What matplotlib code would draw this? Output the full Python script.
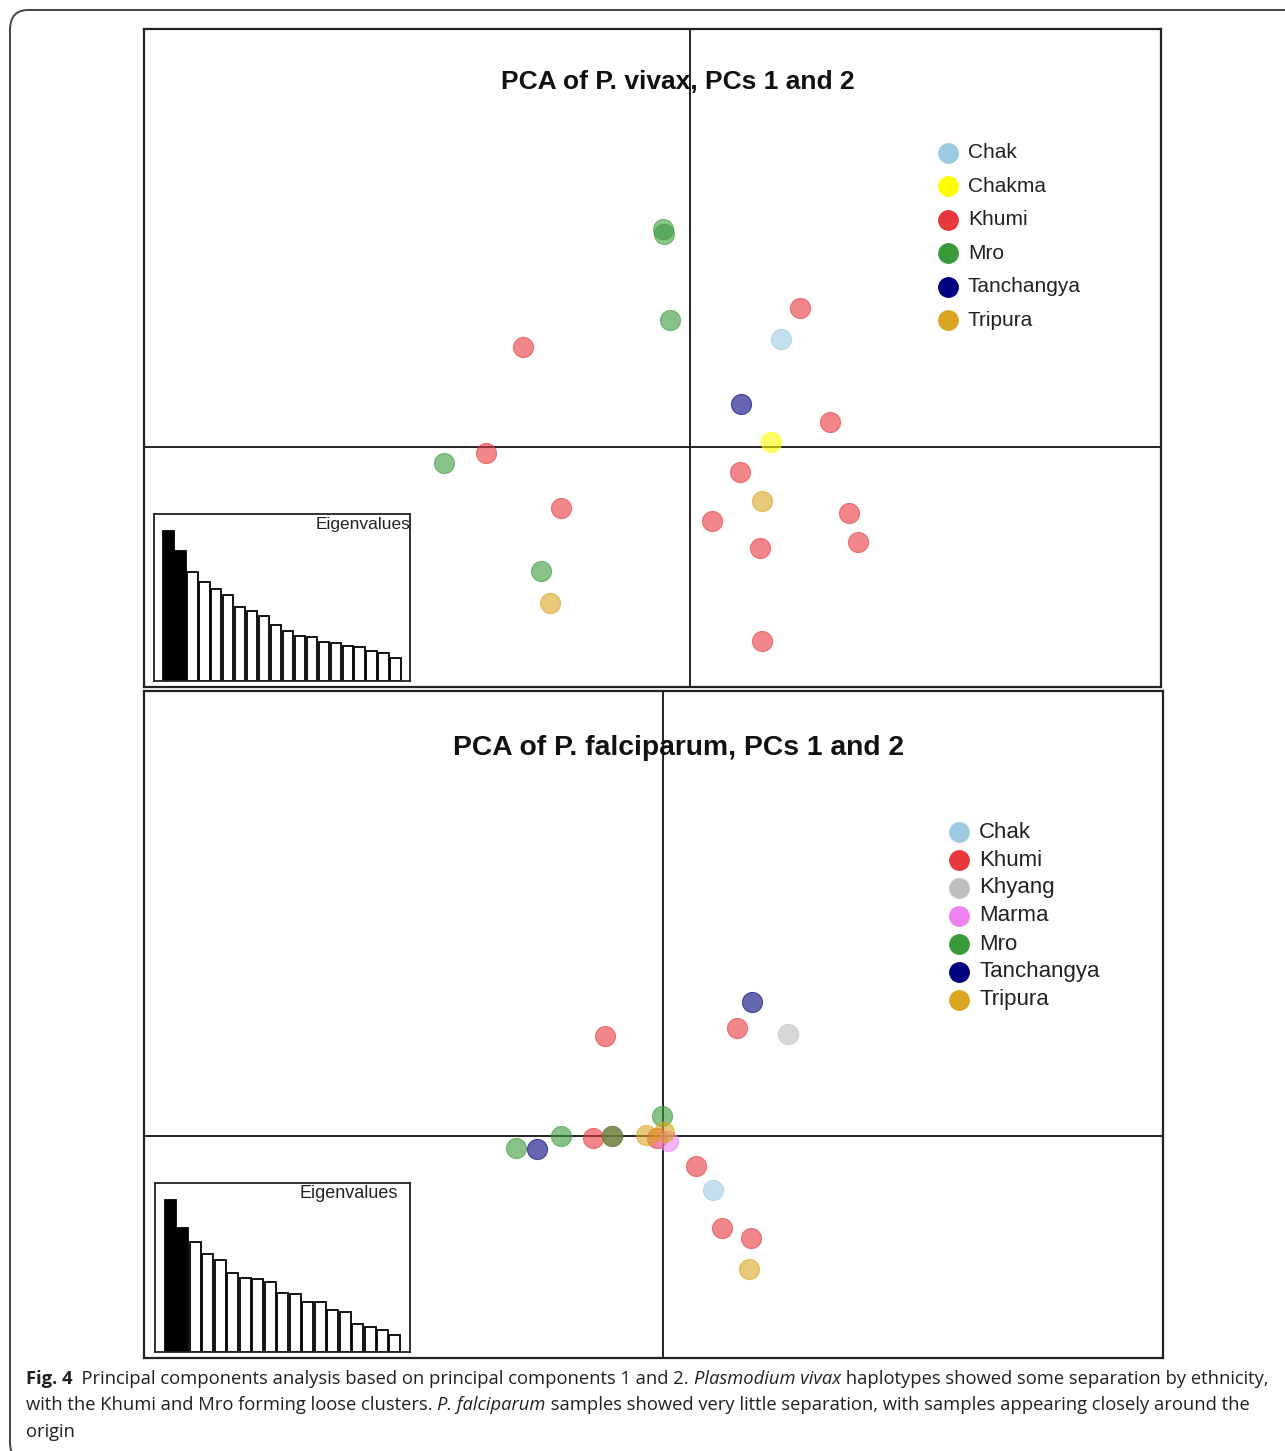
import matplotlib
matplotlib.use('Agg')
import matplotlib.pyplot as plt
from matplotlib.patches import FancyBboxPatch
import numpy as np

W, H = 1285, 1451

# P. vivax, PCs 1 and 2
VIVAX_GROUPS = ['Chak', 'Chakma', 'Khumi', 'Mro', 'Tanchangya', 'Tripura']
VIVAX_PC1 = {
    'Chak': [0.91],
    'Chakma': [0.81],
    'Khumi': [1.10, -1.67, 1.40, -2.04, 0.50, -1.29, 0.22, 1.59, 1.68, 0.70, 0.72],
    'Mro': [-0.27, -0.26, -0.20, -2.46, -1.49],
    'Tanchangya': [0.51],
    'Tripura': [0.72, -1.40],
}
VIVAX_PC2 = {
    'Chak': [1.08],
    'Chakma': [0.05],
    'Khumi': [1.39, 1.00, 0.25, -0.06, -0.25, -0.61, -0.74, -0.66, -0.95, -1.01, -1.94],
    'Mro': [2.18, 2.13, 1.27, -0.16, -1.24],
    'Tanchangya': [0.43],
    'Tripura': [-0.54, -1.56],
}
VIVAX_EIG = [4.50, 3.88, 3.27, 2.95, 2.74, 2.57, 2.21, 2.08, 1.95, 1.67,
             1.50, 1.34, 1.31, 1.18, 1.13, 1.05, 1.01, 0.91, 0.85, 0.69]

# P. falciparum, PCs 1 and 2
FALC_GROUPS = ['Chak', 'Khumi', 'Khyang', 'Marma', 'Mro', 'Tanchangya', 'Tripura']
FALC_PC1 = {
    'Chak': [0.50],
    'Khumi': [0.74, -0.58, -0.70, -0.06, 0.33, 0.59, 0.88, -0.51],
    'Khyang': [1.25],
    'Marma': [0.05],
    'Mro': [-0.01, -1.02, -1.47, -0.51],
    'Tanchangya': [0.89, -1.26],
    'Tripura': [-0.17, 0.01, 0.86],
}
FALC_PC2 = {
    'Chak': [-0.54],
    'Khumi': [1.08, 1.00, -0.02, -0.02, -0.30, -0.92, -1.02, 0.00],
    'Khyang': [1.02],
    'Marma': [-0.05],
    'Mro': [0.20, 0.00, -0.12, 0.00],
    'Tanchangya': [1.34, -0.13],
    'Tripura': [0.01, 0.04, -1.33],
}
FALC_EIG = [4.57, 3.73, 3.30, 2.94, 2.77, 2.36, 2.23, 2.18, 2.09, 1.78,
            1.74, 1.51, 1.51, 1.27, 1.21, 0.83, 0.74, 0.65, 0.52]

COLORS = {
    'Chak': '#9ecae1',
    'Chakma': '#ffff00',
    'Khumi': '#e8383d',
    'Khyang': '#bebebe',
    'Marma': '#ee82ee',
    'Mro': '#3a9a3a',
    'Tanchangya': '#000080',
    'Tripura': '#daa520',
}


def fig_rect(x0, y0, x1, y1):
    # pixel box (top-left origin) -> figure fraction rect
    return [x0 / W, 1 - y1 / H, (x1 - x0) / W, (y1 - y0) / H]


def panel(fig, box, xlim, ylim, groups, pc1, pc2, title, title_xy, title_size,
          leg_x, leg_y0, leg_dy, leg_size):
    ax = fig.add_axes(fig_rect(*box))
    ax.set_xlim(xlim)
    ax.set_ylim(ylim)
    ax.set_xticks([])
    ax.set_yticks([])
    for s in ax.spines.values():
        s.set_linewidth(1.6)
        s.set_color('#222222')
    ax.axhline(0, color='#111111', lw=1.3, zorder=1)
    ax.axvline(0, color='#111111', lw=1.3, zorder=1)
    for g in groups:
        ax.scatter(pc1[g], pc2[g], s=210, color=COLORS[g], alpha=0.6,
                   edgecolors=COLORS[g], linewidths=0.8, zorder=3)
    fig.text(title_xy[0] / W, 1 - title_xy[1] / H, title,
             ha='center', va='center', fontsize=title_size, fontweight='bold',
             family='Liberation Sans', color='#111111', zorder=5)
    for i, g in enumerate(groups):
        y = leg_y0 + i * leg_dy
        fig.lines.append(plt.Line2D([leg_x / W], [1 - y / H], marker='o',
                                    markersize=14, color=COLORS[g], ls='none',
                                    transform=fig.transFigure, figure=fig))
        fig.text((leg_x + 20) / W, 1 - y / H, g, ha='left', va='center',
                 fontsize=leg_size, family='Liberation Sans', color='#222222')
    return ax


def eigen_inset(fig, box, eig, label_x, label_y, label_size):
    ax = fig.add_axes(fig_rect(*box))
    n = len(eig)
    xs = np.arange(n)
    colors = ['black' if i < 2 else 'white' for i in range(n)]
    ax.bar(xs, eig, width=0.88, color=colors, edgecolor='black', linewidth=1.3)
    ax.set_xlim(-1.2, n - 1 + 1.2)
    ax.set_ylim(0, max(eig) * 1.11)
    ax.set_xticks([])
    ax.set_yticks([])
    for s in ax.spines.values():
        s.set_linewidth(1.3)
        s.set_color('#222222')
    fig.text(label_x / W, 1 - label_y / H, 'Eigenvalues', ha='right',
             va='center', fontsize=label_size, family='Liberation Sans',
             color='#222222')
    return ax


fig = plt.figure(figsize=(W / 100, H / 100), dpi=100)

# outer rounded frame
frame = FancyBboxPatch((10 / W, 1 - 1462 / H), 1320 / W, 1452 / H,
                       boxstyle='round,pad=0,rounding_size=0.014',
                       transform=fig.transFigure, fill=False,
                       edgecolor='#444444', linewidth=1.4, figure=fig)
fig.patches.append(frame)

ax1 = panel(fig, (144, 29, 1161, 687), (-5.46, 4.71), (-2.40, 4.18),
            VIVAX_GROUPS, VIVAX_PC1, VIVAX_PC2,
            'PCA of P. vivax, PCs 1 and 2', (678, 82), 19, 948, 153, 33.4, 15)
eigen_inset(fig, (154, 514, 410, 681), VIVAX_EIG, 411, 525, 12.5)

ax2 = panel(fig, (144, 691, 1163, 1358), (-5.19, 5.00), (-2.22, 4.45),
            FALC_GROUPS, FALC_PC1, FALC_PC2,
            'PCA of P. falciparum, PCs 1 and 2', (679, 748), 20.3, 959, 832, 28, 16)
eigen_inset(fig, (155, 1183, 410, 1352), FALC_EIG, 398, 1194, 13)

# caption, drawn piece by piece
CAPTION = [
    [('Fig. 4', 'bold'), ('  Principal components analysis based on principal components 1 and 2. ', 'normal'),
     ('Plasmodium vivax', 'italic'), (' haplotypes showed some separation by ethnicity,', 'normal')],
    [('with the Khumi and Mro forming loose clusters. ', 'normal'), ('P. falciparum', 'italic'),
     (' samples showed very little separation, with samples appearing closely around the', 'normal')],
    [('origin', 'normal')],
]
cap_font = ['Liberation Sans Narrow', 'Open Sans', 'DejaVu Sans']
renderer = fig.canvas.get_renderer()


def caption_kw(style, size):
    kw = dict(fontsize=size, family=cap_font, color='#231f20',
              ha='left', va='center')
    if style == 'bold':
        kw['fontweight'] = 'bold'
    if style == 'italic':
        kw['fontstyle'] = 'italic'
    return kw


# measure the first line at 14 pt and fit it to the reference width
probe_w = 0
for txt, style in CAPTION[0]:
    t = fig.text(0, 0, txt, **caption_kw(style, 14))
    probe_w += t.get_window_extent(renderer).width
    t.remove()
cap_size = 14 * (1270 - 26) / probe_w

for li, line in enumerate(CAPTION):
    x = 26
    y = 1379 + li * 26.5
    for txt, style in line:
        t = fig.text(x / W, 1 - y / H, txt, **caption_kw(style, cap_size))
        x += t.get_window_extent(renderer).width

fig.savefig('out.png', dpi=100)
